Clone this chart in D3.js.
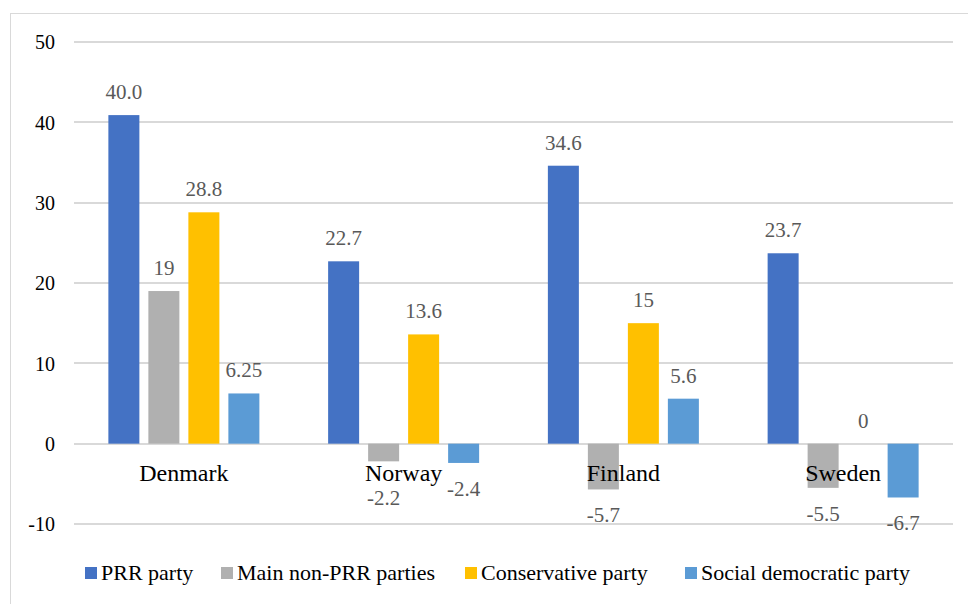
<!DOCTYPE html>
<html>
<head>
<meta charset="utf-8">
<script src="https://cdn.jsdelivr.net/npm/d3@7"></script>
<style>
  html, body { margin: 0; padding: 0; background: #fff; }
  svg { display: block; }
  svg text { font-family: "Liberation Serif", "DejaVu Serif", "Noto Serif", "Times New Roman", Times, serif; }
</style>
</head>
<body>
<svg id="chart" width="968" height="604"></svg>
<script>
// ---- data ----
const categories = ["Denmark", "Norway", "Finland", "Sweden"];
const seriesNames = ["PRR party", "Main non-PRR parties", "Conservative party", "Social democratic party"];
const prrValues = [40.9, 22.7, 34.6, 23.7];
const nonPrrValues = [19, -2.2, -5.7, -5.5];
const conservativeValues = [28.8, 13.6, 15, 0];
const socdemValues = [6.25, -2.4, 5.6, -6.7];
const prrLabels = ["40.0", "22.7", "34.6", "23.7"];
const nonPrrLabels = ["19", "-2.2", "-5.7", "-5.5"];
const conservativeLabels = ["28.8", "13.6", "15", "0"];
const socdemLabels = ["6.25", "-2.4", "5.6", "-6.7"];
const yTicks = [-10, 0, 10, 20, 30, 40, 50];
const colors = ["#4472C4", "#B0B0B0", "#FFC000", "#5B9BD5"];

const seriesValues = [prrValues, nonPrrValues, conservativeValues, socdemValues];
const seriesLabels = [prrLabels, nonPrrLabels, conservativeLabels, socdemLabels];

// ---- layout ----
const svg = d3.select("#chart");
const mLeft = 74, mRight = 953, mTop = 42, mBottom = 524;
const legendX = [85, 221, 465, 685];

// frame
svg.append("rect")
  .attr("x", 10.5).attr("y", 13.5)
  .attr("width", 980).attr("height", 620)
  .attr("fill", "none").attr("stroke", "#d9d9d9").attr("stroke-width", 1);

const y = d3.scaleLinear().domain([-10, 50]).range([mBottom, mTop]);
const x0 = d3.scaleBand().domain(categories).range([mLeft, mRight]).padding(0);
const x1 = d3.scaleBand().domain(d3.range(seriesNames.length))
  .range([-80, 80]).paddingInner(0.225).paddingOuter(0.1125);

// gridlines
const grid = svg.append("g");
grid.selectAll("line").data(yTicks).join("line")
  .attr("x1", mLeft).attr("x2", mRight)
  .attr("y1", d => Math.round(y(d))).attr("y2", d => Math.round(y(d)))
  .attr("stroke", "#d9d9d9").attr("stroke-width", 2);

// y axis labels via d3 axis
const yAxis = svg.append("g")
  .attr("transform", `translate(${mLeft - 19},0)`)
  .call(d3.axisLeft(y).tickValues(yTicks).tickSize(0).tickPadding(0).tickFormat(d => String(d)));
yAxis.attr("font-family", null);
yAxis.select(".domain").remove();
yAxis.selectAll("text")
  .attr("font-size", 20).attr("fill", "#000")
  .attr("dy", "0.34em");

// bars
const flat = [];
categories.forEach((c, ci) => {
  seriesValues.forEach((vals, si) => {
    flat.push({ cat: c, si, v: vals[ci], label: seriesLabels[si][ci] });
  });
});

const bx = d => x0(d.cat) + x0.bandwidth() / 2 + x1(d.si);

svg.append("g").selectAll("rect").data(flat.filter(d => d.v !== 0)).join("rect")
  .attr("x", d => bx(d))
  .attr("width", x1.bandwidth())
  .attr("y", d => y(Math.max(0, d.v)))
  .attr("height", d => Math.abs(y(d.v) - y(0)))
  .attr("fill", d => colors[d.si]);

// category labels
svg.append("g").selectAll("text").data(categories).join("text")
  .attr("x", d => x0(d) + x0.bandwidth() / 2)
  .attr("y", 481)
  .attr("text-anchor", "middle")
  .attr("font-size", 24).attr("fill", "#000")
  .text(d => d);

// data labels (negative labels on inner bars are pushed below the category label)
const labelY = d => {
  if (d.v >= 0) return y(d.v) - 16;
  const natural = y(d.v) + 33;
  return (d.si === 1 || d.si === 2) ? Math.max(natural, 505) : natural;
};
svg.append("g").selectAll("text").data(flat).join("text")
  .attr("x", d => bx(d) + x1.bandwidth() / 2)
  .attr("y", labelY)
  .attr("text-anchor", "middle")
  .attr("font-size", 21).attr("fill", "#595959")
  .text(d => d.label);

// legend
const legend = svg.append("g");
seriesNames.forEach((name, i) => {
  const g = legend.append("g").attr("transform", `translate(${legendX[i]},0)`);
  g.append("rect").attr("x", 0).attr("y", 567).attr("width", 12).attr("height", 12).attr("fill", colors[i]);
  g.append("text").attr("x", 16).attr("y", 580)
    .attr("font-size", 22).attr("fill", "#000")
    .text(name);
});
</script>
</body>
</html>
